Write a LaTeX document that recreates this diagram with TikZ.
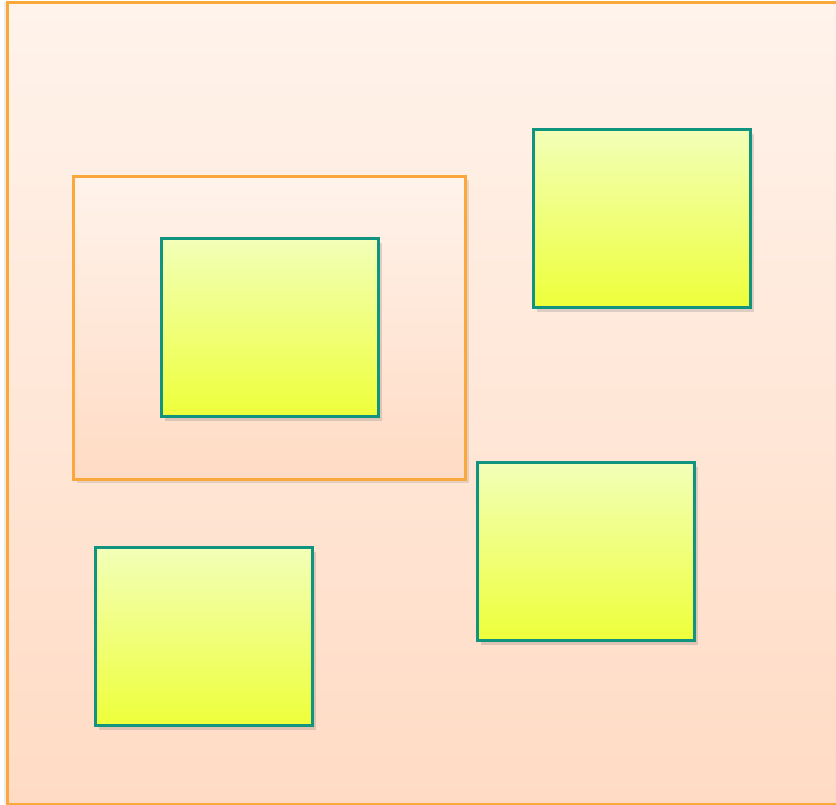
\documentclass[tikz,border=0pt]{standalone}
\usepackage{tikz}
\usetikzlibrary{shadows,positioning}
\definecolor{frameorange}{RGB}{250,168,60}
\definecolor{peachtop}{RGB}{255,243,235}
\definecolor{peachbot}{RGB}{255,219,196}
\definecolor{limetop}{RGB}{242,255,184}
\definecolor{limebot}{RGB}{238,255,58}
\definecolor{tealedge}{RGB}{16,148,128}

\begin{document}
\begin{tikzpicture}[
    x=0.02cm,y=-0.02cm,
    panel/.style={draw=frameorange,line width=1.5pt,
      top color=peachtop,bottom color=peachbot,inner sep=0pt,
      drop shadow={shadow xshift=2pt,shadow yshift=-2pt,opacity=0.18,fill=black!60}},
    block/.style={draw=tealedge,line width=1.5pt,
      top color=limetop,bottom color=limebot,
      minimum width=4.34cm,minimum height=3.56cm,inner sep=0pt,
      drop shadow={shadow xshift=2pt,shadow yshift=-2.5pt,opacity=0.22,fill=black!60}},
  ]

  \useasboundingbox (0,0) rectangle (836,805);

  % outer frame runs past the right edge
  \node[panel,anchor=north west,
        minimum width=16.7cm,minimum height=16.04cm,
        drop shadow={shadow xshift=-2pt,shadow yshift=0pt,opacity=0.12,fill=black!60}]
    (outer) at (6,1) {};

  \node[panel,anchor=north west,
        minimum width=7.84cm,minimum height=6.06cm] (group) at (72,175) {};

  \node[block,anchor=north west] (inbox) at (160,237) {};
  \node[block,anchor=north west] (topright) at (532,128) {};
  \node[block,anchor=north west] (midright) at (476,461) {};
  \node[block,anchor=north west] (botleft) at (94,546) {};

\end{tikzpicture}
\end{document}
